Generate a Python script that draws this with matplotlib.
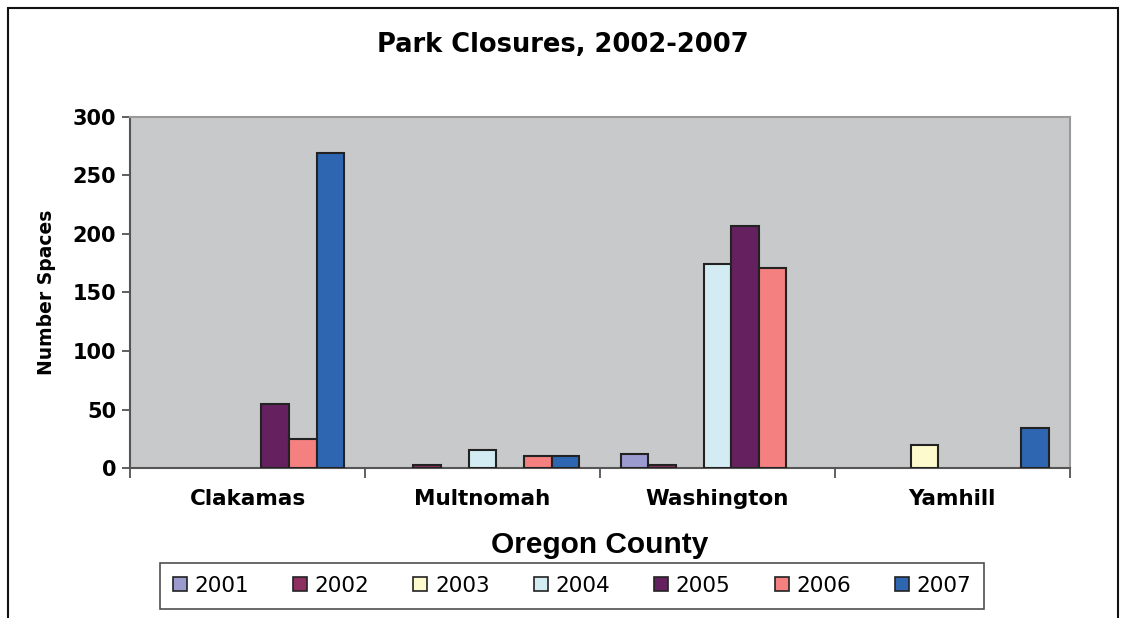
import numpy as np
import matplotlib
matplotlib.use("Agg")
import matplotlib.pyplot as plt
from matplotlib.patches import Rectangle, Patch

# data
counties = ["Clakamas", "Multnomah", "Washington", "Yamhill"]
years = ["2001", "2002", "2003", "2004", "2005", "2006", "2007"]
v2001 = [0, 0, 12, 0]
v2002 = [0, 3, 3, 0]
v2003 = [0, 0, 0, 20]
v2004 = [0, 15, 174, 0]
v2005 = [55, 0, 207, 0]
v2006 = [25, 10, 171, 0]
v2007 = [269, 10, 0, 34]
series = [v2001, v2002, v2003, v2004, v2005, v2006, v2007]
colors = ["#9b9bd0", "#8e3062", "#fdfacd", "#d3ecf3", "#65205f", "#f48080", "#2e66b2"]

fig = plt.figure(figsize=(11.26, 6.18), dpi=100)
ax = fig.add_axes([0.1155, 0.2427, 0.8345, 0.568])
ax.set_facecolor("#c8c9cb")

x = np.arange(len(counties))
w = 1 / 8.5
handles = []
for i, vals in enumerate(series):
    pos = x + (i - 3) * w
    # zero values are not drawn
    v = np.array(vals, dtype=float)
    m = v > 0
    ax.bar(pos[m], v[m], width=w, color=colors[i], edgecolor="#222222", linewidth=1.5, zorder=3)
    handles.append(Patch(facecolor=colors[i], edgecolor="#222222", linewidth=1.2, label=years[i]))

ax.set_xlim(-0.5, 3.5)
ax.set_ylim(0, 300)
ax.set_yticks(range(0, 301, 50))
ax.set_xticks(x)
ax.set_xticklabels(counties)
ax.set_xticks(np.arange(-0.5, 4.0, 1), minor=True)
ax.tick_params(axis="x", which="major", length=0, pad=15)
ax.tick_params(axis="x", which="minor", length=7, width=1.2, color="#444444")
ax.tick_params(axis="y", length=6, width=1.2, color="#444444", pad=4)
for lab in ax.get_yticklabels():
    lab.set_fontweight("bold")
    lab.set_fontsize(15)
for lab in ax.get_xticklabels():
    lab.set_fontweight("bold")
    lab.set_fontsize(15.5)

for s in ["top", "right"]:
    ax.spines[s].set_color("#9a9a9a")
    ax.spines[s].set_linewidth(1.5)
for s in ["left", "bottom"]:
    ax.spines[s].set_color("#555555")
    ax.spines[s].set_linewidth(1.5)

ax.set_ylabel("Number Spaces", fontsize=13.5, fontweight="bold", labelpad=12)
ax.set_xlabel("Oregon County", fontsize=21.5, fontweight="bold", family="Liberation Sans", labelpad=16)
fig.text(0.5, 0.927, "Park Closures, 2002-2007", ha="center", va="center", fontsize=18.5, fontweight="bold")

leg = ax.legend(handles=handles, loc="center", bbox_to_anchor=(0.508, 0.052), bbox_transform=fig.transFigure,
                ncol=7, fontsize=15.5, frameon=True, fancybox=False, edgecolor="#222222",
                handlelength=0.65, handleheight=0.65, handletextpad=0.35, columnspacing=2.05,
                borderpad=0.6)
leg.get_frame().set_linewidth(1.2)

# outer chart border
fig.patches.append(Rectangle((8 / 1126, -0.05), 1110 / 1126, 1.05 - 8 / 618, transform=fig.transFigure,
                             fill=False, edgecolor="#111111", linewidth=1.5))

fig.savefig("out.png", dpi=100, facecolor="white")
